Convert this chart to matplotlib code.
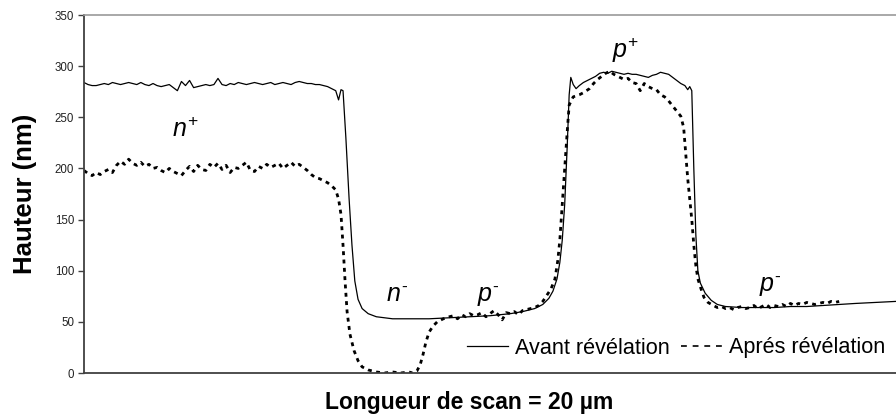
import matplotlib.pyplot as plt
from matplotlib.lines import Line2D

plt.rcParams["font.family"] = ["Liberation Sans", "DejaVu Sans"]
plt.rcParams["mathtext.fontset"] = "custom"
plt.rcParams["mathtext.rm"] = "Liberation Sans"
plt.rcParams["mathtext.it"] = "Liberation Sans:italic"

# Profilometer scan, position in µm, height in nm
AVANT_X = [
    0.0, 0.1, 0.2, 0.3, 0.4, 0.5, 0.6, 0.7, 0.8, 0.9,
    1.0, 1.1, 1.2, 1.3, 1.4, 1.5, 1.6, 1.7, 1.8, 1.9,
    2.0, 2.1, 2.2, 2.3, 2.4, 2.5, 2.6, 2.7, 2.8, 2.9,
    3.0, 3.1, 3.2, 3.3, 3.4, 3.5, 3.6, 3.7, 3.8, 3.9,
    4.0, 4.1, 4.2, 4.3, 4.4, 4.5, 4.6, 4.7, 4.8, 4.9,
    5.0, 5.1, 5.2, 5.3, 5.4, 5.5, 5.6, 5.7, 5.8, 5.9,
    6.0, 6.1, 6.2, 6.27, 6.33, 6.38, 6.45, 6.53, 6.6, 6.67,
    6.75, 6.85, 7.0, 7.2, 7.4, 7.6, 8.0, 8.5, 9.0, 9.5,
    10.0, 10.5, 10.8, 11.1, 11.3, 11.45, 11.55, 11.65, 11.72, 11.78,
    11.84, 11.9, 11.95, 11.99, 12.05, 12.12, 12.2, 12.3, 12.4, 12.5,
    12.6, 12.7, 12.8, 12.9, 13.0, 13.1, 13.2, 13.3, 13.4, 13.5,
    13.6, 13.7, 13.8, 13.9, 14.0, 14.1, 14.2, 14.3, 14.4, 14.5,
    14.6, 14.7, 14.8, 14.87, 14.92, 14.97, 15.02, 15.07, 15.12, 15.18,
    15.3, 15.45, 15.6, 15.8, 16.2, 16.6, 17.0, 17.4, 17.8, 18.2,
    18.6, 19.0, 19.5, 20.0,
]
AVANT_Y = [
    284, 282, 281, 281, 282, 283, 282, 284, 283, 282,
    283, 284, 283, 282, 284, 282, 281, 283, 281, 280,
    281, 282, 279, 276, 285, 281, 286, 279, 280, 281,
    282, 281, 282, 288, 282, 281, 283, 282, 284, 283,
    282, 283, 284, 283, 282, 283, 284, 282, 283, 284,
    283, 282, 284, 285, 284, 283, 283, 282, 282, 281,
    280, 278, 276, 267, 277, 276, 230, 170, 125, 90,
    72, 63, 58, 55, 54, 53, 53, 53, 54, 55,
    56, 58, 60, 63, 67, 73, 80, 92, 108, 130,
    165, 220, 272, 289, 282, 278, 281, 284, 286, 288,
    290, 293, 294, 293, 295, 294, 293, 292, 293, 292,
    292, 291, 290, 289, 291, 292, 294, 293, 292, 289,
    286, 283, 281, 277, 280, 276, 200, 135, 100, 88,
    78, 71, 67, 65, 64, 64, 64, 65, 65, 66,
    67, 68, 69, 70,
]

APRES_X = [
    0.0, 0.1, 0.2, 0.3, 0.4, 0.5, 0.6, 0.7, 0.8, 0.9,
    1.0, 1.1, 1.2, 1.3, 1.4, 1.5, 1.6, 1.7, 1.8, 1.9,
    2.0, 2.1, 2.2, 2.3, 2.4, 2.5, 2.6, 2.7, 2.8, 2.9,
    3.0, 3.1, 3.2, 3.3, 3.4, 3.5, 3.6, 3.7, 3.8, 3.9,
    4.0, 4.1, 4.2, 4.3, 4.4, 4.5, 4.6, 4.7, 4.8, 4.9,
    5.0, 5.1, 5.2, 5.3, 5.4, 5.5, 5.6, 5.7, 5.8, 5.9,
    6.0, 6.1, 6.2, 6.27, 6.33, 6.38, 6.43, 6.48, 6.55, 6.65,
    6.75, 6.85, 7.0, 7.2, 7.4, 7.6, 7.8, 8.0, 8.1, 8.2,
    8.28, 8.35, 8.42, 8.5, 8.6, 8.7, 8.85, 9.0, 9.1, 9.2,
    9.3, 9.4, 9.5, 9.6, 9.7, 9.8, 9.9, 10.0, 10.1, 10.2,
    10.3, 10.4, 10.5, 10.6, 10.7, 10.8, 10.9, 11.0, 11.1, 11.2,
    11.3, 11.4, 11.5, 11.6, 11.67, 11.72, 11.78, 11.84, 11.9, 11.95,
    12.05, 12.2, 12.3, 12.45, 12.55, 12.65, 12.75, 12.85, 12.95, 13.05,
    13.15, 13.3, 13.4, 13.5, 13.6, 13.7, 13.8, 13.9, 14.0, 14.1,
    14.2, 14.3, 14.4, 14.5, 14.6, 14.7, 14.77, 14.82, 14.87, 14.92,
    14.97, 15.02, 15.07, 15.12, 15.2, 15.27, 15.37, 15.5, 15.6, 15.7,
    15.8, 15.9, 16.0, 16.1, 16.2, 16.3, 16.4, 16.5, 16.6, 16.7,
    16.8, 16.9, 17.0, 17.1, 17.2, 17.3, 17.4, 17.5, 17.6, 17.7,
    17.8, 17.9, 18.0, 18.1, 18.2, 18.3, 18.4, 18.5, 18.6,
]
APRES_Y = [
    198, 195, 193, 196, 194, 197, 199, 196, 203, 207,
    204, 209, 205, 203, 206, 202, 204, 200, 201, 198,
    196, 200, 197, 195, 193, 198, 202, 197, 203, 199,
    198, 204, 201, 205, 199, 203, 196, 201, 200, 203,
    206, 198, 197, 202, 200, 204, 201, 203, 205, 200,
    203, 206, 202, 204, 201, 198, 194, 191, 190, 188,
    186, 183, 179, 170, 155, 125, 90, 60, 38, 22,
    12, 6, 3, 1, 0, 1, 0, 1, 0, 2,
    8, 18, 30, 40, 46, 50, 53, 55, 56, 53,
    57, 55, 58, 56, 57, 59, 55, 58, 61, 57,
    52, 59, 58, 60, 57, 61, 62, 63, 64, 66,
    70, 76, 82, 92, 110, 130, 165, 200, 235, 262,
    270, 272, 274, 278, 283, 287, 290, 293, 295, 292,
    290, 287, 288, 284, 283, 276, 283, 280, 278, 277,
    272, 270, 266, 261, 256, 251, 240, 215, 190, 170,
    150, 125, 105, 92, 82, 74, 69, 66, 64, 65,
    63, 64, 62, 64, 65, 63, 64, 66, 63, 65,
    67, 64, 66, 65, 67, 65, 68, 66, 68, 67,
    69, 68, 67, 68, 69, 68, 70, 69, 70,
]

# Doping-region annotations: (label, x in µm, baseline height in nm)
REGION_LABELS = [r"$n^{+}$", r"$p^{+}$", r"$n^{\text{-}}$", r"$p^{\text{-}}$", r"$p^{\text{-}}$"]
REGION_X = [2.5, 13.35, 7.7, 9.95, 16.9]
REGION_Y = [231, 308, 69, 69, 79]

Y_TICKS = [0, 50, 100, 150, 200, 250, 300, 350]

_AXIS_GRAY = "#404040"


def main() -> None:
    fig = plt.figure(figsize=(8.96, 4.17), dpi=100)
    ax = fig.add_axes([84 / 896, 44 / 417, 1 - 84 / 896, 358 / 417])

    (avant,) = ax.plot(AVANT_X, AVANT_Y, color="black", linewidth=0.9)
    ax.plot(
        APRES_X, APRES_Y, color="black", linewidth=2.0,
        linestyle=(0, (1.4, 1.6)),
    )

    for label, x, y in zip(REGION_LABELS, REGION_X, REGION_Y):
        ax.text(x, y, label, fontsize=18, ha="center", va="baseline")

    ax.set_xlim(0, 20)
    ax.set_ylim(0, 350)
    ax.set_yticks(Y_TICKS)
    ax.set_xticks([])
    ax.tick_params(axis="y", length=4, width=1, color=_AXIS_GRAY,
                   labelsize=8.3, labelcolor="#222222", pad=3)

    ax.spines["right"].set_visible(False)
    ax.spines["top"].set_color("#9a9a9a")
    ax.spines["top"].set_linewidth(1.2)
    for side in ("left", "bottom"):
        ax.spines[side].set_color(_AXIS_GRAY)
        ax.spines[side].set_linewidth(1.3)

    ax.set_ylabel("Hauteur (nm)", fontsize=18.5, fontweight="bold", labelpad=13)
    fig.text(469 / 896, 1 - 402 / 417, "Longueur de scan = 20 µm",
             fontsize=16.5, fontweight="bold", ha="center", va="center")

    apres_handle = Line2D([], [], color="black", linewidth=1.2, linestyle=(0, (3.5, 3.5)))
    fig.legend(
        [avant, apres_handle], ["Avant révélation", "Aprés révélation"],
        loc="center left", bbox_to_anchor=(467 / 896, 1 - 348 / 417),
        ncol=2, frameon=False, fontsize=15.6, handlelength=1.9,
        handletextpad=0.3, columnspacing=0.55, borderaxespad=0, borderpad=0,
    )

    fig.savefig("out.png", dpi=100)
    plt.close(fig)


if __name__ == "__main__":
    main()
